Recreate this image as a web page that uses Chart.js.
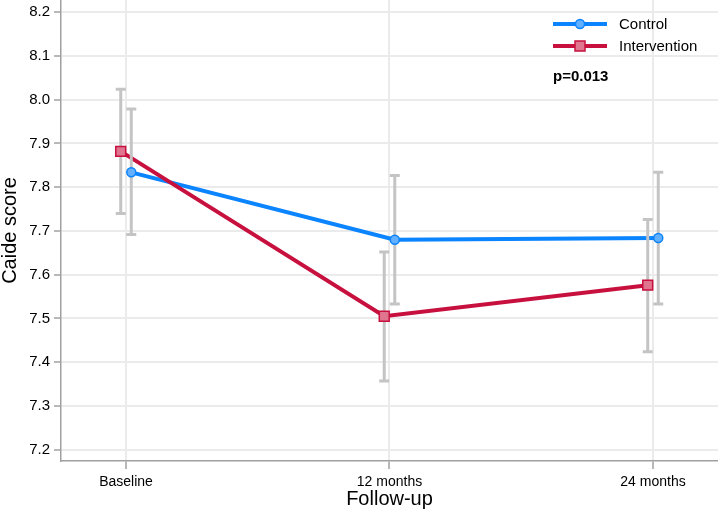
<!DOCTYPE html>
<html>
<head>
<meta charset="utf-8">
<script src="https://cdn.jsdelivr.net/npm/chart.js@4.4.1/dist/chart.umd.min.js"></script>
<style>
  html, body { margin: 0; padding: 0; background: #fff; }
  canvas { display: block; }
</style>
</head>
<body>
<canvas id="chart" width="718" height="511"></canvas>
<script>
// categories + values
const categories = ['Baseline', '12 months', '24 months'];
const controlMean = [7.834, 7.680, 7.684];
const controlLow = [7.692, 7.533, 7.533];
const controlHigh = [7.979, 7.827, 7.834];
const interventionMean = [7.882, 7.505, 7.576];
const interventionLow = [7.740, 7.357, 7.424];
const interventionHigh = [8.024, 7.652, 7.726];
const yTicks = [7.2, 7.3, 7.4, 7.5, 7.6, 7.7, 7.8, 7.9, 8.0, 8.1, 8.2];
const pValue = 'p=0.013';

const blue = '#0b84ff';
const blueFill = '#62b0ff';
const red = '#c8103e';
const redFill = '#e07590';
const barGrey = '#c4c4c4';
const FONT = "'Liberation Sans', Arial, sans-serif";

// small horizontal shift so the groups don't sit on top of each other
const shift = 0.02;

function toPoints(values, dx) {
  return values.map((v, i) => ({ x: i + dx, y: v }));
}

// grey CI bars, drawn between the lines and the markers
const errorBars = {
  id: 'errorBars',
  beforeDatasetDraw(chart, args) {
    if (args.index !== 2) return;
    const xs = chart.scales.x;
    const ys = chart.scales.y;
    const ctx = chart.ctx;
    const groups = [
      { low: interventionLow, high: interventionHigh, dx: -shift },
      { low: controlLow, high: controlHigh, dx: shift }
    ];
    ctx.save();
    ctx.strokeStyle = barGrey;
    ctx.lineWidth = 3;
    groups.forEach(g => {
      for (let i = 0; i < categories.length; i++) {
        const x = xs.getPixelForValue(i + g.dx);
        const y1 = ys.getPixelForValue(g.low[i]);
        const y2 = ys.getPixelForValue(g.high[i]);
        ctx.beginPath();
        ctx.moveTo(x, y1);
        ctx.lineTo(x, y2);
        ctx.moveTo(x - 5, y1);
        ctx.lineTo(x + 5, y1);
        ctx.moveTo(x - 5, y2);
        ctx.lineTo(x + 5, y2);
        ctx.stroke();
      }
    });
    ctx.restore();
  }
};

// legend with line + marker symbols, and the p value
const legendBox = {
  id: 'legendBox',
  afterDraw(chart) {
    const ctx = chart.ctx;
    const entries = [
      { label: 'Control', color: blue, fill: blueFill, shape: 'circle', y: 24 },
      { label: 'Intervention', color: red, fill: redFill, shape: 'square', y: 46 }
    ];
    ctx.save();
    entries.forEach(e => {
      ctx.strokeStyle = e.color;
      ctx.lineWidth = 4;
      ctx.beginPath();
      ctx.moveTo(553, e.y);
      ctx.lineTo(607, e.y);
      ctx.stroke();
      ctx.fillStyle = e.fill;
      ctx.lineWidth = 1.5;
      ctx.beginPath();
      if (e.shape === 'circle') ctx.arc(580, e.y, 4.5, 0, Math.PI * 2);
      else ctx.rect(575, e.y - 5, 10, 10);
      ctx.fill();
      ctx.stroke();
      ctx.fillStyle = '#000';
      ctx.font = '15px ' + FONT;
      ctx.textBaseline = 'middle';
      ctx.textAlign = 'left';
      ctx.fillText(e.label, 619, e.y + 1);
    });
    ctx.font = 'bold 15px ' + FONT;
    ctx.fillText(pValue, 553, 77);
    ctx.restore();
  }
};

new Chart(document.getElementById('chart'), {
  type: 'line',
  data: {
    datasets: [
      {
        label: 'Control',
        data: toPoints(controlMean, shift),
        borderColor: blue,
        borderWidth: 4,
        pointRadius: 0,
        order: 4
      },
      {
        label: 'Intervention',
        data: toPoints(interventionMean, -shift),
        borderColor: red,
        borderWidth: 4,
        pointRadius: 0,
        order: 3
      },
      {
        label: 'Control markers',
        data: toPoints(controlMean, shift),
        showLine: false,
        pointStyle: 'circle',
        pointRadius: 4.5,
        pointBorderWidth: 1.5,
        pointBorderColor: blue,
        pointBackgroundColor: blueFill,
        order: 2
      },
      {
        label: 'Intervention markers',
        data: toPoints(interventionMean, -shift),
        showLine: false,
        pointStyle: 'rect',
        pointRadius: 7,
        pointBorderWidth: 1.5,
        pointBorderColor: red,
        pointBackgroundColor: redFill,
        order: 1
      }
    ]
  },
  options: {
    responsive: false,
    devicePixelRatio: 1,
    animation: false,
    layout: { padding: 0, autoPadding: false },
    plugins: {
      legend: { display: false },
      tooltip: { enabled: false }
    },
    scales: {
      x: {
        type: 'linear',
        min: -0.2467,
        max: 2.2467,
        afterBuildTicks: s => { s.ticks = categories.map((c, i) => ({ value: i })); },
        afterFit: s => { s.height = 50; s.paddingLeft = 0; s.paddingRight = 0; },
        ticks: {
          callback: v => categories[Math.round(v)],
          font: { family: FONT, size: 14 },
          color: '#000',
          padding: 5,
          maxRotation: 0
        },
        grid: {
          color: '#ebebeb',
          lineWidth: 2,
          tickLength: 8,
          tickColor: '#a0a0a0',
          tickWidth: 1.5
        },
        border: { color: '#a0a0a0', width: 1.5 },
        title: {
          display: true,
          text: 'Follow-up',
          font: { family: FONT, size: 20 },
          color: '#000',
          padding: { top: 0, bottom: 0 }
        }
      },
      y: {
        min: 7.174,
        max: 8.228,
        afterBuildTicks: s => { s.ticks = yTicks.map(v => ({ value: v })); },
        afterFit: s => { s.width = 61; s.paddingTop = 0; s.paddingBottom = 0; },
        ticks: {
          callback: v => v.toFixed(1),
          font: { family: FONT, size: 15 },
          color: '#000',
          padding: 4
        },
        grid: {
          color: '#ebebeb',
          lineWidth: 2,
          tickLength: 7,
          tickColor: '#a0a0a0',
          tickWidth: 1.5
        },
        border: { color: '#a0a0a0', width: 1.5 },
        title: {
          display: true,
          text: 'Caide score',
          font: { family: FONT, size: 20, lineHeight: 1 },
          color: '#000',
          padding: 0
        }
      }
    }
  },
  plugins: [errorBars, legendBox]
});
</script>
</body>
</html>
